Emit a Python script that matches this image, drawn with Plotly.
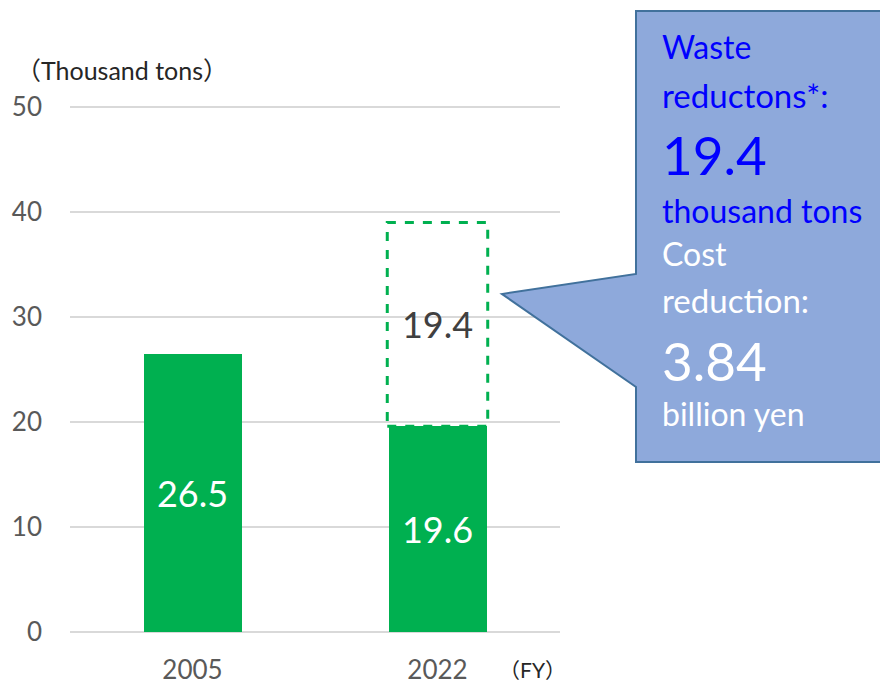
import plotly.graph_objects as go

# ---- data ----
years = ["2005", "2022"]
amounts = [26.5, 19.6]          # thousand tons
reduction_year = "2022"
reduction = 19.4                # thousand tons reduced
cost_reduction = "3.84"         # billion yen
y_ticks = [0, 10, 20, 30, 40, 50]

GREEN = "#00B050"
FONT = "Lato, 'Noto Sans CJK JP'"

W, H = 880, 685
ML, MR, MT, MB = 70, 320, 106, 53
PW = W - ML - MR
PH = H - MT - MB
Y_TOP = 50.1


def px(x):
    return (x - ML) / PW


def py(y):
    return (H - MB - y) / PH


fig = go.Figure()
fig.add_trace(go.Bar(
    x=years, y=amounts, marker=dict(color=GREEN, line=dict(width=0)),
    text=[f"{v:.1f}" for v in amounts], textposition="inside",
    insidetextanchor="middle", textangle=0,
    textfont=dict(family=FONT, size=36, color="white"),
    hoverinfo="skip", width=0.4,
))
fig.add_trace(go.Bar(
    x=[reduction_year], y=[reduction],
    marker=dict(color="rgba(255,255,255,0)", line=dict(width=0)),
    text=[f"{reduction:.1f}"], textposition="inside",
    insidetextanchor="middle", textangle=0,
    textfont=dict(family=FONT, size=36, color="#404040"),
    hoverinfo="skip", width=0.4,
))

idx = years.index(reduction_year)
base = amounts[idx]
fig.add_shape(type="rect", xref="x", yref="y",
              x0=idx - 0.205, x1=idx + 0.205, y0=base, y1=base + reduction,
              line=dict(color=GREEN, width=3, dash="dash"), layer="above")

# callout
pts = [(636, 11), (895, 11), (895, 462), (636, 462), (636, 387), (502, 294), (636, 274)]
path = "M " + " L ".join(f"{px(a):.4f},{py(b):.4f}" for a, b in pts) + " Z"
fig.add_shape(type="path", xref="paper", yref="paper", path=path,
              fillcolor="#8EA9DB", line=dict(color="#41719C", width=2), layer="above")

lines = [
    ("Waste", 47, 32, "#0000FF"),
    ("reductons*:", 95, 33, "#0000FF"),
    (f"{reduction:.1f}", 155, 53, "#0000FF"),
    ("thousand tons", 210, 32, "#0000FF"),
    ("Cost", 253, 32, "white"),
    ("reduction:", 300, 33, "white"),
    (cost_reduction, 360, 53, "white"),
    ("billion yen", 413, 32, "white"),
]
for txt, yy, sz, col in lines:
    fig.add_annotation(text=txt, xref="paper", yref="paper", x=px(660), y=py(yy),
                       xanchor="left", yanchor="middle", showarrow=False,
                       font=dict(family=FONT, size=sz, color=col))

fig.add_annotation(text="（Thousand tons）", xref="paper", yref="paper",
                   x=px(122), y=py(70), xanchor="center", yanchor="middle",
                   showarrow=False, font=dict(family=FONT, size=25, color="#262626"))
fig.add_annotation(text="（FY）", xref="paper", yref="paper",
                   x=px(532), y=py(669), xanchor="center", yanchor="middle",
                   showarrow=False, font=dict(family=FONT, size=21, color="#262626"))

fig.update_layout(
    width=W, height=H, margin=dict(l=ML, r=MR, t=MT, b=MB, autoexpand=False),
    paper_bgcolor="white", plot_bgcolor="white",
    barmode="stack", showlegend=False,
    font=dict(family=FONT),
)
fig.update_xaxes(type="category", showgrid=False, showline=False, zeroline=False,
                 automargin=False,
                 ticks="", tickfont=dict(family=FONT, size=26, color="#595959"),
                 ticklabelstandoff=20)
fig.update_yaxes(range=[0, Y_TOP], tickvals=y_ticks, showgrid=True, gridcolor="#D9D9D9",
                 gridwidth=2, zeroline=True, zerolinecolor="#D9D9D9", zerolinewidth=2,
                 showline=False, ticks="", automargin=False,
                 tickfont=dict(family=FONT, size=26, color="#595959"),
                 ticklabelstandoff=27)

fig.write_html("out.html", config={"displayModeBar": False},
               post_script="document.body.style.margin='0';")
